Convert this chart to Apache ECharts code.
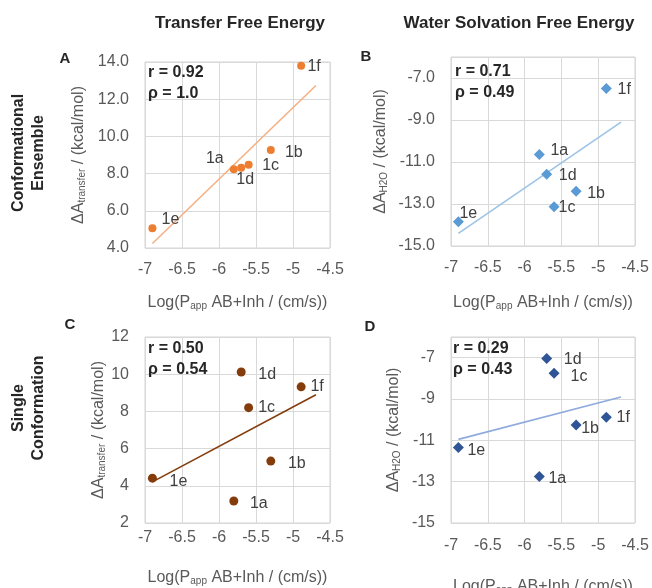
<!DOCTYPE html>
<html>
<head>
<meta charset="utf-8">
<script src="https://cdn.jsdelivr.net/npm/echarts@6/dist/echarts.min.js"></script>
<style>
html, body { margin: 0; padding: 0; background: #fff; }
#chart { width: 652px; height: 588px; }
</style>
</head>
<body>
<div id="chart"></div>
<script>
// compounds and their permeability (same x for all four panels)
const compounds = ['1a', '1b', '1c', '1d', '1e', '1f'];
const logPapp = [-5.80, -5.30, -5.60, -5.70, -6.90, -4.89];

// y values, one list per panel
const transferEnsemble = [8.23, 9.27, 8.48, 8.32, 5.06, 13.8];
const solvationEnsemble = [-10.64, -12.39, -13.13, -11.58, -13.85, -7.50];
const transferSingle = [3.18, 5.33, 8.20, 10.12, 4.41, 9.32];
const solvationSingle = [-12.75, -10.26, -7.76, -7.04, -11.35, -9.88];

// correlation text shown in each panel
const statsText = [
  ['r = 0.92', 'ρ = 1.0'],
  ['r = 0.71', 'ρ = 0.49'],
  ['r = 0.50', 'ρ = 0.54'],
  ['r = 0.29', 'ρ = 0.43']
];
const panelLetters = ['A', 'B', 'C', 'D'];
const columnTitles = ['Transfer Free Energy', 'Water Solvation Free Energy'];
const rowTitles = ['Conformational\nEnsemble', 'Single\nConformation'];

const FONT = '"Liberation Sans", Arial, Helvetica, sans-serif';

// layout / style per panel
const panels = [
  {
    y: transferEnsemble, min: 4, max: 14, dec: 1, sub: 'transfer',
    color: '#ED7D31', line: '#F4B183', symbol: 'circle', size: 8,
    grid: { left: 145, top: 62, width: 185, height: 186 },
    yGap: 58, xMargin: 14, xGap: 47, stats: [148, 62], letter: [65, 59],
    offsets: [[-19, -11], [23, 3], [22, 1], [4, 12], [18, -9], [13, 1]]
  },
  {
    y: solvationEnsemble, min: -15, max: -6, dec: 1, sub: 'H2O',
    color: '#5B9BD5', line: '#9DC3E6', symbol: 'diamond', size: 11,
    grid: { left: 451, top: 57, width: 184, height: 189 },
    yGap: 62, xMargin: 14, xGap: 49, stats: [455, 61], letter: [366, 57],
    offsets: [[20, -4], [20, 2], [13, 1], [21, 1], [10, -8], [18, 1]]
  },
  {
    y: transferSingle, min: 2, max: 12, dec: 0, sub: 'transfer',
    color: '#843C0C', line: '#843C0C', symbol: 'circle', size: 9,
    grid: { left: 145, top: 337, width: 185, height: 186 },
    yGap: 38, xMargin: 7, xGap: 47, stats: [148, 338], letter: [70, 325],
    offsets: [[25, 3], [26, 3], [18, 0], [26, 3], [26, 3], [16, 0]]
  },
  {
    y: solvationSingle, min: -15, max: -6, dec: 0, sub: 'H2O',
    color: '#2F5597', line: '#8FAADC', symbol: 'diamond', size: 11,
    grid: { left: 451, top: 337, width: 184, height: 186 },
    yGap: 49, xMargin: 15, xGap: 56, stats: [453, 338], letter: [370, 327],
    offsets: [[18, 2], [14, 4], [25, 3], [26, 1], [18, 3], [17, 0]]
  }
];

// least squares trendline, extended 0.2 past the last point like the excel one
function trend(xs, ys) {
  const n = xs.length;
  const mx = xs.reduce((a, b) => a + b, 0) / n;
  const my = ys.reduce((a, b) => a + b, 0) / n;
  let sxy = 0, sxx = 0;
  xs.forEach((x, i) => { sxy += (x - mx) * (ys[i] - my); sxx += (x - mx) * (x - mx); });
  const k = sxy / sxx;
  const x0 = Math.min(...xs), x1 = Math.max(...xs) + 0.2;
  return [[x0, my + k * (x0 - mx)], [x1, my + k * (x1 - mx)]];
}

const grid = [], xAxis = [], yAxis = [], series = [], graphic = [];

panels.forEach((p, i) => {
  grid.push(Object.assign({
    show: true, borderColor: '#D4D4D4', borderWidth: 1, backgroundColor: 'transparent',
    outerBoundsMode: 'none', containLabel: false
  }, p.grid));

  xAxis.push({
    gridIndex: i, type: 'value', min: -7, max: -4.5, interval: 0.5,
    name: '{m|Log(P}{s|app}{m| AB+Inh / (cm/s))}',
    nameLocation: 'middle', nameGap: p.xGap,
    nameTextStyle: {
      verticalAlign: 'top',
      rich: {
        m: { fontSize: 16, fontFamily: FONT, color: '#595959', verticalAlign: 'bottom' },
        s: { fontSize: 10, fontFamily: FONT, color: '#595959', verticalAlign: 'bottom' }
      }
    },
    axisLine: { show: false }, axisTick: { show: false },
    splitLine: { show: true, lineStyle: { color: '#D9D9D9', width: 1 } },
    axisLabel: { fontSize: 16, fontFamily: FONT, color: '#595959', margin: p.xMargin }
  });

  yAxis.push({
    gridIndex: i, type: 'value', min: p.min, max: p.max, interval: 2,
    name: '{m|ΔA}{s|' + p.sub + '}{m| / (kcal/mol)}',
    nameLocation: 'middle', nameGap: p.yGap,
    nameTextStyle: {
      rich: {
        m: { fontSize: 16, fontFamily: FONT, color: '#595959', verticalAlign: 'bottom' },
        s: { fontSize: 10, fontFamily: FONT, color: '#595959', verticalAlign: 'bottom' }
      }
    },
    axisLine: { show: false }, axisTick: { show: false },
    splitLine: { show: true, lineStyle: { color: '#D9D9D9', width: 1 } },
    axisLabel: {
      fontSize: 16, fontFamily: FONT, color: '#595959', margin: 16,
      showMaxLabel: p.max % 2 === 0 && p.max > 0,
      formatter: v => v.toFixed(p.dec)
    }
  });

  series.push({
    type: 'line', xAxisIndex: i, yAxisIndex: i,
    data: trend(logPapp, p.y), showSymbol: false, silent: true,
    lineStyle: { color: p.line, width: 1.6 }, z: 2
  });

  series.push({
    type: 'scatter', xAxisIndex: i, yAxisIndex: i,
    symbol: p.symbol, symbolSize: p.size,
    itemStyle: { color: p.color, opacity: 1 },
    z: 3,
    data: logPapp.map((x, j) => ({
      value: [x, p.y[j]],
      label: { offset: p.offsets[j] }
    })),
    label: {
      show: true, position: 'inside',
      formatter: q => compounds[q.dataIndex],
      fontSize: 16, fontFamily: FONT, color: '#404040'
    }
  });

  graphic.push({
    type: 'text', x: p.stats[0], y: p.stats[1], z: 10,
    style: {
      text: statsText[i].join('\n'), font: 'bold 16px ' + FONT, lineHeight: 21,
      fill: '#262626', textAlign: 'left', align: 'left', textVerticalAlign: 'top', verticalAlign: 'top'
    }
  });
  graphic.push({
    type: 'text', x: p.letter[0], y: p.letter[1], z: 10,
    style: {
      text: panelLetters[i], font: 'bold 15px ' + FONT, fill: '#262626',
      textAlign: 'center', align: 'center', textVerticalAlign: 'middle', verticalAlign: 'middle'
    }
  });
});

// column headers
[240, 519].forEach((cx, i) => {
  graphic.push({
    type: 'text', x: cx, y: 23,
    style: {
      text: columnTitles[i], font: 'bold 17px ' + FONT, fill: '#262626',
      textAlign: 'center', align: 'center', textVerticalAlign: 'middle', verticalAlign: 'middle'
    }
  });
});

// row headers (rotated)
[153, 408].forEach((cy, i) => {
  graphic.push({
    type: 'text', x: 29, y: cy, rotation: Math.PI / 2,
    style: {
      text: rowTitles[i], font: 'bold 16px ' + FONT, fill: '#262626', lineHeight: 20,
      textAlign: 'center', align: 'center', textVerticalAlign: 'middle', verticalAlign: 'middle'
    }
  });
});

const chart = echarts.init(document.getElementById('chart'), null, { renderer: 'canvas' });
chart.setOption({
  animation: false,
  backgroundColor: '#ffffff',
  grid: grid,
  xAxis: xAxis,
  yAxis: yAxis,
  series: series,
  graphic: graphic
});
</script>
</body>
</html>
